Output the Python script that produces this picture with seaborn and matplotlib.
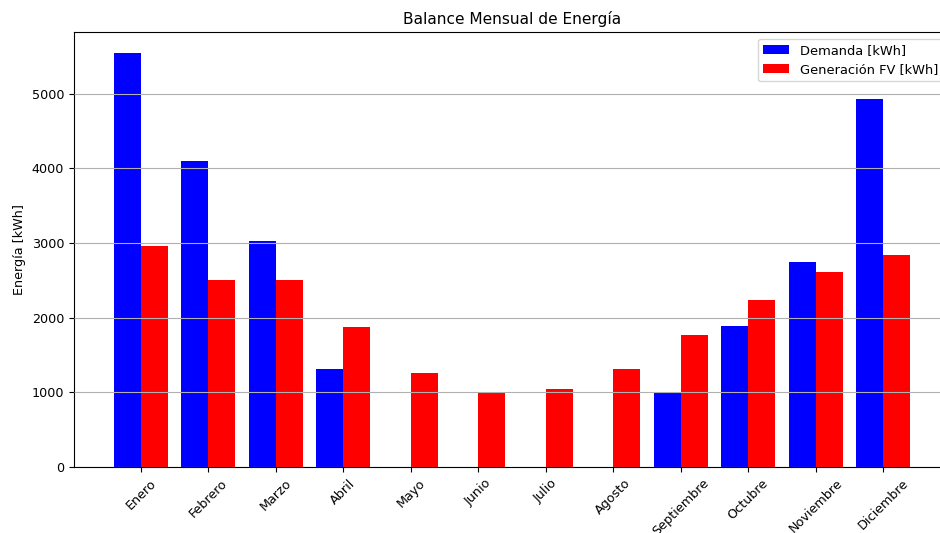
import matplotlib
matplotlib.use("Agg")
import matplotlib.pyplot as plt
import seaborn as sns
import pandas as pd

meses = ["Enero", "Febrero", "Marzo", "Abril", "Mayo", "Junio", "Julio",
         "Agosto", "Septiembre", "Octubre", "Noviembre", "Diciembre"]
demanda = [5550, 4100, 3030, 1310, 0, 0, 0, 0, 995, 1890, 2740, 4930]
generacion = [2960, 2510, 2510, 1870, 1265, 995, 1050, 1315, 1770, 2235, 2610, 2840]
series = ["Demanda [kWh]", "Generación FV [kWh]"]
colores = ["blue", "red"]

df = pd.DataFrame({
    "Mes": meses * 2,
    "Energía": demanda + generacion,
    "Serie": [series[0]] * len(meses) + [series[1]] * len(meses),
})

plt.rcParams["font.family"] = ["DejaVu Sans"]
fig = plt.figure(figsize=(9.4, 5.33), dpi=100)
ax = fig.add_axes([74 / 940, (533 - 467) / 533, 876 / 940, (467 - 32) / 533])

sns.barplot(data=df, x="Mes", y="Energía", hue="Serie", palette=colores,
            saturation=1, linewidth=0, width=0.8, ax=ax, errorbar=None)

ax.set_xlim(-0.99, 11.99)
ax.set_ylim(0, 5550 * 1.05)
ax.set_title("Balance Mensual de Energía", fontsize=11.1)
ax.set_ylabel("Energía [kWh]", fontsize=9.2)
ax.set_xlabel("")
ax.tick_params(axis="both", labelsize=9.2)
plt.setp(ax.get_xticklabels(), rotation=45, ha="center")
ax.grid(axis="y", color="#b0b0b0", linewidth=0.8)
ax.set_axisbelow(False)
for b in ax.patches:
    b.set_zorder(1)
ax.legend(loc="upper right", fontsize=9.4, title=None)

fig.savefig("out.png", dpi=100)
